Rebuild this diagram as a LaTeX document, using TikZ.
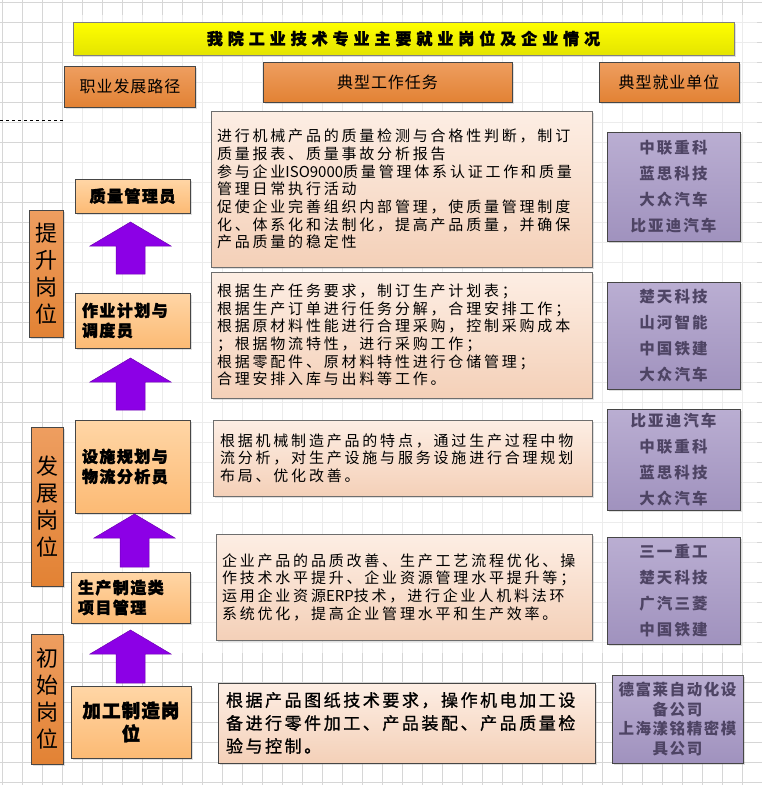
\documentclass[tikz,border=0pt]{standalone}
\usepackage{fontspec}
\setmainfont{Noto Sans CJK SC}
\usetikzlibrary{shadows}

\definecolor{clGrid}{RGB}{214,214,214}
\definecolor{clTitleTop}{RGB}{255,255,0}
\definecolor{clTitleBot}{RGB}{228,228,0}
\definecolor{clHeadTop}{RGB}{238,158,96}
\definecolor{clHeadBot}{RGB}{226,130,52}
\definecolor{clJobTop}{RGB}{255,214,166}
\definecolor{clJobBot}{RGB}{252,186,116}
\definecolor{clTaskTop}{RGB}{253,238,228}
\definecolor{clTaskBot}{RGB}{244,208,184}
\definecolor{clFirmTop}{RGB}{186,174,210}
\definecolor{clFirmBot}{RGB}{160,146,190}
\definecolor{clFirmText}{RGB}{78,68,100}
\definecolor{clArrow}{RGB}{140,0,230}
\definecolor{clEdge}{RGB}{70,70,70}

\newcommand{\lat}[1]{{\addfontfeature{LetterSpace=0}#1}}

\tikzset{
  gridLine/.style={draw=clGrid, line width=0.6pt},
  boxShadow/.style={drop shadow={shadow xshift=1.5pt, shadow yshift=-1.5pt, opacity=0.25}},
  titleBox/.style={draw={rgb,255:red,128;green,128;blue,128}, top color=clTitleTop, bottom color=clTitleBot, line width=1pt, boxShadow, inner sep=0pt,
    font={\fontsize{16}{18}\selectfont\bfseries\addfontfeature{LetterSpace=31,FakeBold=1.5}}},
  headBox/.style={draw=clEdge, top color=clHeadTop, bottom color=clHeadBot, line width=1pt, boxShadow, inner sep=0pt,
    font={\fontsize{16}{18}\selectfont\addfontfeature{LetterSpace=6}}},
  levelBox/.style={headBox, align=center, font={\fontsize{22}{27}\selectfont}},
  jobBox/.style={draw=clEdge, top color=clJobTop, bottom color=clJobBot, line width=1pt, boxShadow, inner xsep=7pt, align=left,
    font={\fontsize{16}{20}\selectfont\bfseries\addfontfeature{LetterSpace=9,FakeBold=2}}},
  taskBox/.style={draw={rgb,255:red,110;green,110;blue,110}, top color=clTaskTop, bottom color=clTaskBot, line width=1pt, boxShadow, inner xsep=6pt, align=left,
    font={\fontsize{15}{17.7}\selectfont\addfontfeature{LetterSpace=18.7}}},
  firmBox/.style={draw=clEdge, top color=clFirmTop, bottom color=clFirmBot, line width=1pt, boxShadow, inner sep=0pt, align=center, text=clFirmText,
    font={\fontsize{15.5}{26}\selectfont\bfseries\addfontfeature{LetterSpace=13}}},
  arrowFill/.style={fill=clArrow, draw={rgb,255:red,110;green,0;blue,180}, line width=0.5pt}
}

\begin{document}
\begin{tikzpicture}[x=1pt, y=-1pt]

    \useasboundingbox (0,0) rectangle (762,785);
    % paper grid
    \fill[white] (0,0) rectangle (762,785);
    \foreach \gi in {0,...,39} {
        \draw[gridLine] ({2.7+20*\gi},0) -- ({2.7+20*\gi},785);
        \draw[gridLine] (0,{2.7+20*\gi}) -- (762,{2.7+20*\gi});
    }
    \fill[white, opacity=0.55] (63,15) rectangle (757,653);
    \draw[black, dashed, line width=0.6pt] (0,120) -- (63,120);

    % title and column heads
    \node[titleBox, minimum width=661pt, minimum height=33pt] (ndTitle) at (403.5,38.5) {我院工业技术专业主要就业岗位及企业情况};
    \node[headBox, minimum width=131pt, minimum height=41pt] (ndHeadPath) at (130,86.5) {职业发展路径};
    \node[headBox, minimum width=249pt, minimum height=40pt] (ndHeadTask) at (387.5,82) {典型工作任务};
    \node[headBox, minimum width=140pt, minimum height=40pt] (ndHeadFirm) at (669,82) {典型就业单位};

    % levels
    \node[levelBox, minimum width=34pt, minimum height=127pt] (ndLevel3) at (46,273.5) {提\\升\\岗\\位};
    \node[levelBox, minimum width=32pt, minimum height=159pt] (ndLevel2) at (47,506.5) {发\\展\\岗\\位};
    \node[levelBox, minimum width=32pt, minimum height=130pt] (ndLevel1) at (47,699) {初\\始\\岗\\位};

    % jobs
    \node[jobBox, align=center, minimum width=115pt, minimum height=34pt] (ndJob5) at (132.5,196) {质量管理员};
    \node[jobBox, text width=101pt, minimum height=55pt] (ndJob4) at (132.5,320.5) {作业计划与\\调度员};
    \node[jobBox, text width=101pt, minimum height=93pt] (ndJob3) at (132.5,466.5) {设施规划与\\物流分析员};
    \node[jobBox, text width=105pt, minimum height=51pt] (ndJob2) at (130.5,597.5) {生产制造类\\项目管理};
    \node[jobBox, align=center, minimum width=120pt, minimum height=72pt, font={\fontsize{18.5}{23}\selectfont\bfseries\addfontfeature{LetterSpace=6,FakeBold=2}}] (ndJob1) at (131,722) {加工制造岗\\位};

    % arrows
    \foreach \cx/\tip/\bot in {130.5/222/274, 130.5/358/410, 134.5/514/567, 130.5/630/683} {
        \draw[arrowFill] (\cx,\tip) -- ({\cx+40.5},{\tip+24}) -- ({\cx+14.5},{\tip+24}) -- ({\cx+14.5},\bot)
            -- ({\cx-14.5},\bot) -- ({\cx-14.5},{\tip+24}) -- ({\cx-40.5},{\tip+24}) -- cycle;
    }

    % tasks
    \node[taskBox, text width=369pt, minimum height=156pt] (ndTask5) at (401.5,189) {进行机械产品的质量检测与合格性判断，制订\\质量报表、质量事故分析报告\\参与企业\lat{ISO9000}质量管理体系认证工作和质量\\管理日常执行活动\\促使企业完善组织内部管理，使质量管理制度\\化、体系化和法制化，提高产品质量，并确保\\产品质量的稳定性};
    \node[taskBox, text width=369pt, minimum height=126pt] (ndTask4) at (401.5,335) {根据生产任务要求，制订生产计划表；\\根据生产订单进行任务分解，合理安排工作；\\根据原材料性能进行合理采购，控制采购成本\\；根据物流特性，进行采购工作；\\根据零配件、原材料特性进行仓储管理；\\合理安排入库与出料等工作。};
    \node[taskBox, text width=365pt, inner xsep=7pt, minimum height=76pt] (ndTask3) at (402.5,458) {根据机械制造产品的特点，通过生产过程中物\\流分析，对生产设施与服务设施进行合理规划\\布局、优化改善。};
    \node[taskBox, text width=364pt, minimum height=106pt] (ndTask2) at (404,587) {企业产品的品质改善、生产工艺流程优化、操\\作技术水平提升、企业资源管理水平提升等；\\运用企业资源\lat{ERP}技术，进行企业人机料法环\\系统优化，提高企业管理水平和生产效率。};
    \node[taskBox, draw=clEdge, text width=361pt, inner xsep=8pt, minimum height=80pt, font={\fontsize{17}{23}\selectfont\addfontfeature{LetterSpace=15,FakeBold=1}}] (ndTask1) at (406.5,723) {根据产品图纸技术要求，操作机电加工设\\备进行零件加工、产品装配、产品质量检\\验与控制。};

    % firms
    \node[firmBox, minimum width=133pt, minimum height=109pt] (ndFirm5) at (673.5,186.5) {中联重科\\蓝思科技\\大众汽车\\比亚迪汽车};
    \node[firmBox, minimum width=133pt, minimum height=107pt] (ndFirm4) at (673.5,335.5) {楚天科技\\山河智能\\中国铁建\\大众汽车};
    \node[firmBox, minimum width=133pt, minimum height=101pt] (ndFirm3) at (673.5,459.5) {比亚迪汽车\\中联重科\\蓝思科技\\大众汽车};
    \node[firmBox, minimum width=133pt, minimum height=107pt] (ndFirm2) at (673.5,590.5) {三一重工\\楚天科技\\广汽三菱\\中国铁建};
    \node[firmBox, minimum width=131pt, minimum height=88pt, font={\fontsize{15.5}{19.5}\selectfont\bfseries\addfontfeature{LetterSpace=10}}] (ndFirm1) at (677.5,719) {德富莱自动化设\\备公司\\上海漾铭精密模\\具公司};
\end{tikzpicture}
\end{document}
